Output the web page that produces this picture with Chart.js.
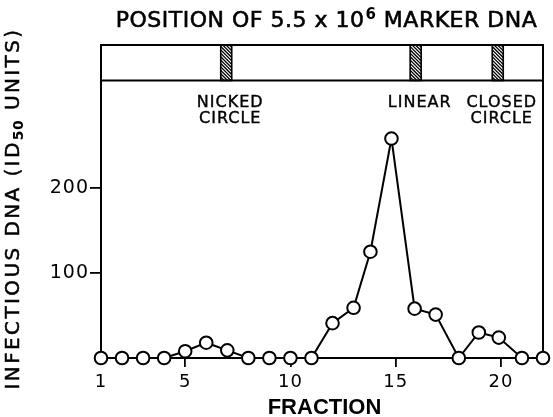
<!DOCTYPE html>
<html>
<head>
<meta charset="utf-8">
<script src="https://cdn.jsdelivr.net/npm/chart.js@4.4.0/dist/chart.umd.min.js"></script>
<style>
  body { margin: 0; background: #fff; }
  canvas { display: block; }
</style>
</head>
<body>
<canvas id="mainChart" width="553" height="417"></canvas>
<script>
// values
var fractions = [1, 2, 3, 4, 5, 6, 7, 8, 9, 10, 11, 12, 13, 13.8, 14.8, 15.9, 16.9, 18, 18.95, 19.9, 21, 22];
var infectiousDNA = [0, 0, 0, 0, 8, 18, 9, 0, 0, 0, 0, 41, 59, 125, 258, 58, 51, 0, 30, 24, 0, 0];
var xTicks = [1, 5, 10, 15, 20];
var yTicks = [100, 200];
var markerNames = [['NICKED', 'CIRCLE'], ['LINEAR'], ['CLOSED', 'CIRCLE']];
var markerFractions = [6.95, 15.95, 19.85];

var FONT = '"DejaVu Sans", sans-serif';

// text with a thin outline so it looks like the heavier lettering
function heavyText(ctx, t, x, y, lw) {
    ctx.lineWidth = lw;
    ctx.strokeStyle = '#000';
    ctx.fillText(t, x, y);
    ctx.strokeText(t, x, y);
}

// box on top, hatched marker bands, titles
var markerPlugin = {
    id: 'markers',
    beforeDraw: function(chart) {
        // a bit of spacing for the tick numbers
        chart.ctx.letterSpacing = '1px';
    },
    beforeDatasetsDraw: function(chart) {
        var ctx = chart.ctx;
        var a = chart.chartArea;
        var xs = chart.scales.x;
        var bandBottom = a.top + 35.5;
        ctx.save();
        ctx.strokeStyle = '#000';
        ctx.lineWidth = 2;
        ctx.beginPath();
        ctx.moveTo(a.left, a.top);
        ctx.lineTo(a.right, a.top);
        ctx.lineTo(a.right, a.bottom);
        ctx.moveTo(a.left, bandBottom);
        ctx.lineTo(a.right, bandBottom);
        ctx.stroke();

        markerFractions.forEach(function(f, i) {
            var cx = xs.getPixelForValue(f);
            var w = 11, h = bandBottom - a.top;
            var x0 = cx - w / 2;
            ctx.save();
            ctx.beginPath();
            ctx.rect(x0, a.top, w, h);
            ctx.clip();
            ctx.lineWidth = 1.3;
            ctx.beginPath();
            for (var k = -h; k < w + h; k += 3.4) {
                ctx.moveTo(x0 + k, a.top);
                ctx.lineTo(x0 + k + h, a.top + h);
            }
            ctx.stroke();
            ctx.restore();
            ctx.lineWidth = 1.6;
            ctx.strokeRect(x0, a.top, w, h);

            ctx.fillStyle = '#000';
            ctx.font = '16px ' + FONT;
            ctx.letterSpacing = '1px';
            ctx.textAlign = 'center';
            ctx.textBaseline = 'alphabetic';
            markerNames[i].forEach(function(t, j) {
                heavyText(ctx, t, cx + 4, 107 + j * 15.5, 0.4);
            });
        });
        ctx.restore();
    },
    afterDraw: function(chart) {
        var ctx = chart.ctx;
        ctx.save();
        ctx.fillStyle = '#000';
        ctx.textBaseline = 'alphabetic';

        // title with superscript
        var big = '22px ' + FONT;
        var p1 = 'POSITION OF 5.5 x 10', p2 = '6', p3 = ' MARKER DNA';
        ctx.letterSpacing = '0.5px';
        ctx.font = big;
        var w1 = ctx.measureText(p1).width, w3 = ctx.measureText(p3).width;
        ctx.font = 'bold 15px ' + FONT;
        var w2 = ctx.measureText(p2).width;
        var x = 326 - (w1 + w2 + w3) / 2;
        ctx.textAlign = 'left';
        ctx.font = big;
        heavyText(ctx, p1, x, 27, 0.6);
        ctx.font = 'bold 15px ' + FONT;
        ctx.fillText(p2, x + w1 + 1, 19);
        ctx.font = big;
        heavyText(ctx, p3, x + w1 + w2 + 1, 27, 0.6);

        // y axis title, rotated, with subscript
        ctx.save();
        ctx.translate(19, 209);
        ctx.rotate(-Math.PI / 2);
        var yb = '20px ' + FONT, ys = 'bold 14px ' + FONT;
        var q1 = 'INFECTIOUS DNA (ID', q2 = '50', q3 = ' UNITS)';
        ctx.letterSpacing = '2.4px';
        ctx.font = yb;
        var v1 = ctx.measureText(q1).width, v3 = ctx.measureText(q3).width;
        ctx.font = ys;
        ctx.letterSpacing = '0.5px';
        var v2 = ctx.measureText(q2).width;
        var sx = -(v1 + v2 + v3) / 2;
        ctx.letterSpacing = '2.4px';
        ctx.font = yb;
        heavyText(ctx, q1, sx, 0, 0.5);
        ctx.font = ys;
        ctx.letterSpacing = '0.5px';
        ctx.fillText(q2, sx + v1, 4);
        ctx.letterSpacing = '2.4px';
        ctx.font = yb;
        heavyText(ctx, q3, sx + v1 + v2 + 1, 0, 0.5);
        ctx.restore();

        // x axis title
        ctx.letterSpacing = '0px';
        ctx.font = 'bold 22px "Liberation Sans", sans-serif';
        ctx.textAlign = 'center';
        ctx.fillText('FRACTION', 324.5, 414);
        ctx.restore();
        ctx.letterSpacing = '0px';
    }
};

var ctx = document.getElementById('mainChart').getContext('2d');
var chart = new Chart(ctx, {
    type: 'line',
    data: {
        datasets: [{
            data: fractions.map(function(f, i) { return { x: f, y: infectiousDNA[i] }; }),
            borderColor: '#000',
            borderWidth: 2,
            pointRadius: 6.3,
            pointBorderWidth: 2,
            pointBackgroundColor: '#fff',
            pointBorderColor: '#000',
            tension: 0,
            clip: false
        }]
    },
    options: {
        responsive: false,
        animation: false,
        layout: { padding: { top: 45, right: 10, left: 0, bottom: 0 } },
        plugins: { legend: { display: false }, tooltip: { enabled: false } },
        scales: {
            x: {
                type: 'linear',
                min: 1,
                max: 22,
                afterBuildTicks: function(s) { s.ticks = xTicks.map(function(v) { return { value: v }; }); },
                afterFit: function(s) { s.height = 59; },
                grid: {
                    drawOnChartArea: false,
                    tickLength: 9,
                    lineWidth: 1.8,
                    color: function(c) { return c.tick && c.tick.value === 1 ? 'rgba(0,0,0,0)' : '#000'; }
                },
                border: { display: true, color: '#000', width: 2 },
                ticks: { color: '#000', font: { family: FONT, size: 18 }, padding: 5, maxRotation: 0 }
            },
            y: {
                min: 0,
                max: 368,
                afterBuildTicks: function(s) { s.ticks = yTicks.map(function(v) { return { value: v }; }); },
                afterFit: function(s) { s.width = 101; },
                grid: { drawOnChartArea: false, tickLength: 11, lineWidth: 1.8, color: '#000' },
                border: { display: true, color: '#000', width: 2 },
                ticks: { color: '#000', font: { family: FONT, size: 19 }, padding: 1 }
            }
        }
    },
    plugins: [markerPlugin]
});
</script>
</body>
</html>
